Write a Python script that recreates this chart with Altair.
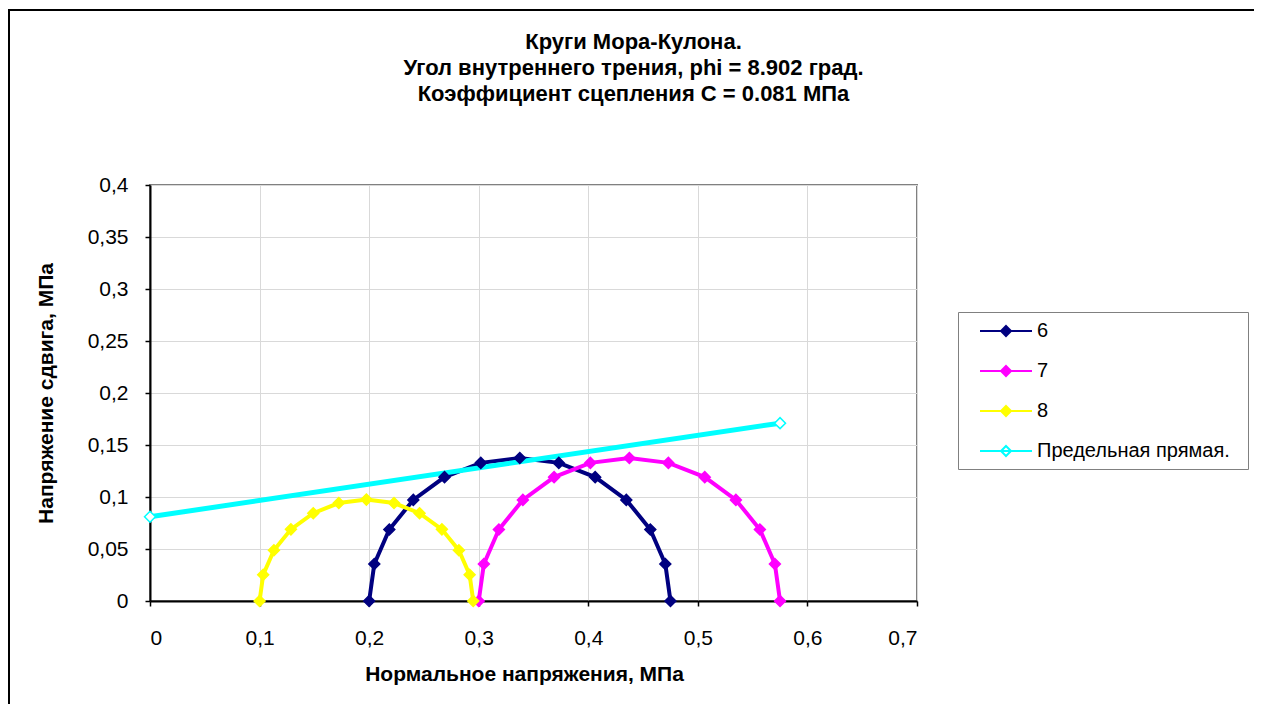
import altair as alt
import pandas as pd

# ---------------- data ----------------
series_names = ["6", "7", "8", "Предельная прямая."]
series_colors = ["#000080", "#FF00FF", "#FFFF00", "#00FFFF"]
marker_fills = ["#000080", "#FF00FF", "#FFFF00", "#FFFFFF"]

x6 = [0.200, 0.2047, 0.2184, 0.2403, 0.2688, 0.3019, 0.3375, 0.3731, 0.4063, 0.4347, 0.4566, 0.4703, 0.475]
y6 = [0.0, 0.0356, 0.0688, 0.0972, 0.1191, 0.1328, 0.1375, 0.1328, 0.1191, 0.0972, 0.0688, 0.0356, 0.0]

x7 = [0.300, 0.3047, 0.3184, 0.3403, 0.3688, 0.4019, 0.4375, 0.4731, 0.5063, 0.5347, 0.5566, 0.5703, 0.575]
y7 = [0.0, 0.0356, 0.0688, 0.0972, 0.1191, 0.1328, 0.1375, 0.1328, 0.1191, 0.0972, 0.0688, 0.0356, 0.0]

x8 = [0.100, 0.1033, 0.1131, 0.1286, 0.1490, 0.1723, 0.1975, 0.2227, 0.2460, 0.2664, 0.2819, 0.2917, 0.295]
y8 = [0.0, 0.0252, 0.0488, 0.0689, 0.0844, 0.0942, 0.0975, 0.0942, 0.0844, 0.0689, 0.0488, 0.0252, 0.0]

x_lim = [0.0, 0.575]
y_lim = [0.081, 0.171]

x_ticks = [0, 0.1, 0.2, 0.3, 0.4, 0.5, 0.6, 0.7]
y_ticks = [0, 0.05, 0.1, 0.15, 0.2, 0.25, 0.3, 0.35, 0.4]

title_lines = [
    "Круги Мора-Кулона.",
    "Угол внутреннего трения, phi = 8.902 град.",
    "Коэффициент сцепления С = 0.081 МПа",
]
x_title = "Нормальное напряжения, МПа"
y_title = "Напряжение сдвига, МПа"

# ---------------- tables ----------------
rows = []
for name, xs, ys in [("6", x6, y6), ("7", x7, y7), ("8", x8, y8)]:
    for i, (xv, yv) in enumerate(zip(xs, ys)):
        rows.append({"series": name, "idx": i, "x": xv, "y": yv})
df_circ = pd.DataFrame(rows)
df_lim = pd.DataFrame({"series": [series_names[3]] * len(x_lim),
                       "idx": list(range(len(x_lim))), "x": x_lim, "y": y_lim})
df_all = pd.concat([df_circ, df_lim], ignore_index=True)

FONT = "Liberation Sans"
W, H = 767, 416
PAD_L, PAD_T = 142, 177
TOTAL_W, TOTAL_H = 1246, 696

label_expr = "replace(format(datum.value, '~g'), '.', ',')"

x_enc = alt.X("x:Q", scale=alt.Scale(domain=[0, 0.7], nice=False),
              axis=alt.Axis(values=x_ticks, labelExpr=label_expr, title=x_title,
                            titleX=374, titlePadding=15, labelPadding=21))
y_enc = alt.Y("y:Q", scale=alt.Scale(domain=[0, 0.4], nice=False),
              axis=alt.Axis(values=y_ticks, labelExpr=label_expr, title=y_title,
                            titlePadding=31, labelPadding=17))

# line + diamond legend glyph; the trailing move-to widens the legend frame
legend_path = "M0.3,0L5.5,0M2.9,-0.5L3.4,0L2.9,0.5L2.4,0ZM25.9,0"
legend_def = alt.Legend(
    title=None, orient="none", legendX=808, legendY=127,
    symbolType=legend_path, symbolSize=400, symbolStrokeWidth=2,
    labelFont=FONT, labelFontSize=20, labelColor="black", labelOffset=49,
    labelLimit=400,
    rowPadding=19, padding=8, strokeColor="#808080", fillColor="white",
)

stroke_scale = alt.Scale(domain=series_names, range=series_colors)
fill_scale = alt.Scale(domain=series_names, range=marker_fills)

border = alt.Chart(alt.Data(values=[{}])).mark_rect(
    fill=None, stroke="black", strokeWidth=2
).encode(x=alt.value(-141), x2=alt.value(1105), y=alt.value(-175), y2=alt.value(560))

lines = alt.Chart(df_circ).mark_line(strokeWidth=4).encode(
    x=x_enc, y=y_enc,
    stroke=alt.Stroke("series:N", scale=stroke_scale, legend=legend_def),
    order="idx:Q",
)
lim_line = alt.Chart(df_lim).mark_line(strokeWidth=5).encode(
    x=x_enc, y=y_enc,
    stroke=alt.Stroke("series:N", scale=stroke_scale, legend=legend_def),
    order="idx:Q",
)
points = alt.Chart(df_all).mark_point(shape="diamond", size=120, strokeWidth=1.5, opacity=1).encode(
    x=x_enc, y=y_enc,
    stroke=alt.Stroke("series:N", scale=stroke_scale, legend=legend_def),
    fill=alt.Fill("series:N", scale=fill_scale, legend=legend_def),
)

chart = alt.layer(border, lines, lim_line, points).properties(
    width=W, height=H,
    autosize=alt.AutoSizeParams(type="none"),
    padding={"left": PAD_L, "top": PAD_T, "right": TOTAL_W - PAD_L - W, "bottom": TOTAL_H - PAD_T - H},
    title=alt.TitleParams(text=title_lines, font=FONT, fontSize=22, fontWeight="bold",
                          color="black", lineHeight=26, anchor="middle", dx=100, offset=-97),
).configure(background="white").configure_view(
    stroke="#808080", strokeWidth=2
).configure_axis(
    labelFont=FONT, labelFontSize=21, labelColor="black",
    titleFont=FONT, titleFontSize=21, titleFontWeight="bold", titleColor="black",
    domainColor="black", domainWidth=2, tickColor="black", tickSize=5, tickWidth=1.5,
    gridColor="#d9d9d9", gridWidth=1, grid=True,
)

chart.save("out.html", embed_options={"renderer": "svg", "actions": False})
